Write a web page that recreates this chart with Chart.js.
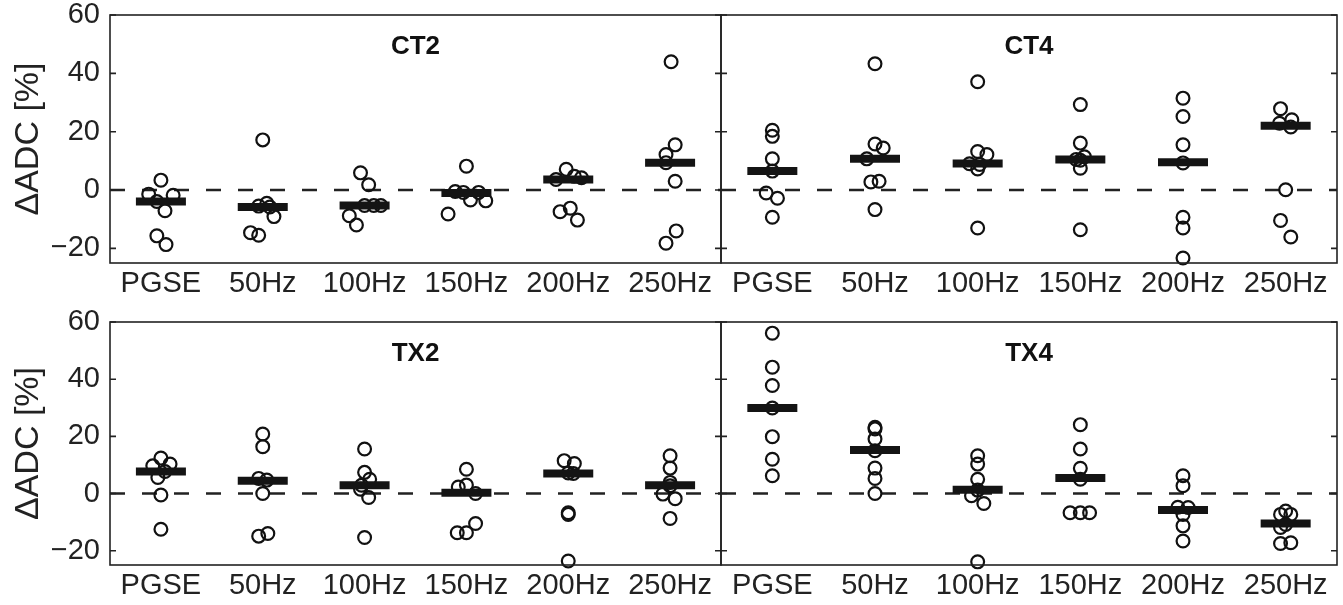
<!DOCTYPE html>
<html>
<head>
<meta charset="utf-8">
<script src="https://cdn.jsdelivr.net/npm/chart.js@4.4.1/dist/chart.umd.min.js"></script>
<style>
body { margin:0; background:#fff; width:1343px; height:605px; position:relative; overflow:hidden; }
canvas { position:absolute; }
</style>
</head>
<body>
<canvas id="ct2" width="725" height="305" style="left:0px;top:0px"></canvas>
<canvas id="ct4" width="643" height="305" style="left:700px;top:0px"></canvas>
<canvas id="tx2" width="725" height="300" style="left:0px;top:305px"></canvas>
<canvas id="tx4" width="643" height="300" style="left:700px;top:305px"></canvas>
<script>
/*-------------------------------------------------------------------------*/
// Data
/*-------------------------------------------------------------------------*/
var CATEGORIES = ['PGSE', '50Hz', '100Hz', '150Hz', '200Hz', '250Hz'];
var Y_TICKS = [-20, 0, 20, 40, 60];
var Y_MIN = -25, Y_MAX = 60;

// one row per category, 7 subjects each; jitter is the horizontal spread of the dots
var CT2_VALUES = [
	[3.4, -1.4, -1.8, -3.9, -7.1, -15.7, -18.7],
	[17.2, -4.5, -5.5, -5.8, -9.1, -14.6, -15.5],
	[5.9, 1.8, -5.3, -5.3, -5.3, -8.8, -12.0],
	[8.2, -0.5, -0.8, -0.8, -3.4, -3.7, -8.2],
	[7.1, 4.7, 4.2, 3.6, -6.2, -7.4, -10.3],
	[44.0, 15.5, 12.2, 9.4, 3.0, -14.0, -18.2]
];
var CT2_JITTER = [
	[0, -0.12, 0.12, -0.04, 0.04, -0.04, 0.05],
	[0, 0.04, -0.04, 0.07, 0.11, -0.12, -0.04],
	[-0.04, 0.04, 0, 0.09, 0.16, -0.15, -0.08],
	[0, -0.11, -0.03, 0.12, 0.04, 0.19, -0.18],
	[-0.02, 0.06, 0.13, -0.12, 0.02, -0.08, 0.09],
	[0.01, 0.05, -0.04, -0.04, 0.05, 0.06, -0.04]
];
var CT2_MEDIAN = [-3.9, -5.8, -5.3, -1.0, 3.6, 9.4];

var CT4_VALUES = [
	[20.5, 18.4, 10.7, 6.5, -1.0, -2.8, -9.3],
	[43.3, 15.8, 14.4, 10.7, 3.0, 2.8, -6.7],
	[37.1, 13.2, 12.2, 9.0, 8.8, 7.2, -13.0],
	[29.3, 16.1, 11.4, 10.5, 10.2, 7.5, -13.6],
	[31.5, 25.2, 15.5, 9.3, -9.3, -13.0, -23.3],
	[27.9, 24.1, 22.9, 21.6, 0.1, -10.4, -16.1]
];
var CT4_JITTER = [
	[0, 0, 0, 0, -0.06, 0.05, 0],
	[0, 0, 0.08, -0.08, 0.04, -0.04, 0],
	[0, 0, 0.09, -0.08, 0.02, 0, 0],
	[0, 0, 0.04, -0.04, 0, 0, 0],
	[0, 0, 0, 0, 0, 0, 0],
	[-0.05, 0.06, -0.06, 0.05, 0, -0.05, 0.05]
];
var CT4_MEDIAN = [6.5, 10.7, 9.1, 10.5, 9.5, 22.0];

var TX2_VALUES = [
	[12.4, 10.3, 9.7, 7.7, 5.6, -0.5, -12.5],
	[20.8, 16.4, 5.3, 4.7, 0, -14.0, -14.9],
	[15.6, 7.4, 5.0, 2.9, 1.5, -1.4, -15.4],
	[8.5, 3.0, 2.3, 0, -10.5, -13.7, -13.7],
	[11.5, 10.5, 7.2, 7.0, -6.7, -7.3, -23.6],
	[13.2, 8.9, 3.9, 2.7, -0.2, -1.8, -8.7]
];
var TX2_JITTER = [
	[0, 0.09, -0.08, 0.04, -0.03, 0, 0],
	[0, 0, -0.04, 0.04, 0, 0.05, -0.04],
	[0, 0, 0.05, -0.03, -0.04, 0.04, 0],
	[0, 0, -0.08, 0.09, 0.09, -0.09, 0],
	[-0.04, 0.06, 0, 0.05, 0, 0, 0],
	[0, 0, 0, 0, -0.07, 0.05, 0]
];
var TX2_MEDIAN = [7.7, 4.5, 2.9, 0.3, 7.0, 2.9];

var TX4_VALUES = [
	[56.1, 44.2, 37.8, 29.9, 19.9, 12.0, 6.2],
	[23.2, 22.6, 19.1, 15.0, 8.9, 5.3, 0],
	[13.2, 10.3, 5.0, 1.2, -0.8, -3.5, -23.9],
	[24.1, 15.6, 8.8, 5.0, -6.7, -6.7, -6.7],
	[6.2, 2.7, -4.8, -4.9, -7.3, -11.3, -16.6],
	[-6.1, -7.3, -7.3, -10.8, -11.9, -17.5, -17.2]
];
var TX4_JITTER = [
	[0, 0, 0, 0, 0, 0, 0],
	[0, 0, 0, 0, 0, 0, 0],
	[0, 0, 0, 0, -0.06, 0.06, 0],
	[0, 0, 0, 0, -0.1, 0, 0.09],
	[0, 0, -0.05, 0.05, 0, 0, 0],
	[0, -0.05, 0.05, 0, -0.05, -0.05, 0.05]
];
var TX4_MEDIAN = [29.9, 15.2, 1.3, 5.4, -5.8, -10.5];

/*-------------------------------------------------------------------------*/
// Helpers
/*-------------------------------------------------------------------------*/
Chart.defaults.font.family = "'Liberation Sans', Arial, Helvetica, sans-serif";
Chart.defaults.color = '#222';

function panelPoints(values, jitter) {
	var pts = [];
	for (var i = 0; i < values.length; i++) {
		for (var k = 0; k < values[i].length; k++) {
			pts.push({ x: i + jitter[i][k], y: values[i][k] });
		}
	}
	return pts;
}

function yLabel(v) {
	return v < 0 ? '\u2212' + (-v) : String(v);
}

// labels may hang over the plot edge, so keep the plot box where the layout puts it
function noLabelPadding(s) {
	s.paddingTop = 0;
	s.paddingBottom = 0;
	s.paddingLeft = 0;
	s.paddingRight = 0;
}

// box around the axes, inward ticks on both sides, panel name
var framePlugin = {
	id: 'frame',
	afterDatasetsDraw: function(chart, args, opts) {
		var a = chart.chartArea, ctx = chart.ctx, ys = chart.scales.y;
		ctx.save();
		ctx.strokeStyle = '#222';
		ctx.lineWidth = 1.6;
		ctx.strokeRect(a.left, a.top, a.right - a.left, a.bottom - a.top);
		ctx.beginPath();
		Y_TICKS.forEach(function(v) {
			var py = ys.getPixelForValue(v);
			ctx.moveTo(a.left, py); ctx.lineTo(a.left + 6, py);
			ctx.moveTo(a.right, py); ctx.lineTo(a.right - 6, py);
		});
		ctx.stroke();
		ctx.font = "bold 26px 'Liberation Sans', Arial, sans-serif";
		ctx.fillStyle = '#111';
		ctx.textAlign = 'center';
		ctx.textBaseline = 'middle';
		ctx.fillText(opts.text, (a.left + a.right) / 2, a.top + 32);
		ctx.restore();
	}
};

function makePanel(id, name, values, jitter, medians, showY, padTop, xHeight) {
	new Chart(document.getElementById(id), {
		type: 'scatter',
		data: {
			datasets: [{
				data: panelPoints(values, jitter),
				pointStyle: 'circle',
				pointRadius: 6.4,
				pointHoverRadius: 6.4,
				borderWidth: 2.2,
				borderColor: '#111',
				backgroundColor: 'rgba(0,0,0,0)',
				clip: false,
				order: 1
			}, {
				data: medians.map(function(m, i) { return { x: i, y: m }; }),
				pointStyle: 'line',
				pointRadius: 25,
				pointHoverRadius: 25,
				borderWidth: 8,
				borderColor: '#141414',
				clip: false,
				order: 0
			}, {
				type: 'line',
				data: [{ x: -0.5, y: 0 }, { x: CATEGORIES.length - 0.5, y: 0 }],
				borderDash: [15, 17],
				borderWidth: 2.5,
				borderColor: '#222',
				pointRadius: 0,
				order: 2
			}]
		},
		options: {
			responsive: false,
			animation: false,
			layout: { autoPadding: false, padding: { top: padTop, right: showY ? 4 : 6, left: 0, bottom: 0 } },
			plugins: {
				legend: { display: false },
				tooltip: { enabled: false },
				frame: { text: name }
			},
			scales: {
				x: {
					type: 'linear',
					min: -0.5,
					max: CATEGORIES.length - 0.5,
					afterBuildTicks: function(s) { s.ticks = CATEGORIES.map(function(c, i) { return { value: i }; }); },
					afterFit: function(s) { s.height = xHeight; noLabelPadding(s); },
					grid: { display: false, drawTicks: false },
					border: { display: false },
					ticks: {
						autoSkip: false, maxRotation: 0, padding: 4,
						font: { size: 29 }, color: '#222',
						callback: function(v, i) { return CATEGORIES[i]; }
					}
				},
				y: {
					type: 'linear',
					min: Y_MIN,
					max: Y_MAX,
					afterBuildTicks: function(s) { s.ticks = Y_TICKS.map(function(v) { return { value: v }; }); },
					afterFit: function(s) { s.width = showY ? 110 : 21; noLabelPadding(s); },
					grid: { display: false, drawTicks: false },
					border: { display: false },
					ticks: { display: showY, padding: 10, font: { size: 29 }, color: '#222', callback: yLabel },
					title: { display: showY, text: '\u0394ADC [%]', font: { size: 34 }, color: '#222', padding: { top: 8, bottom: 0 } }
				}
			}
		},
		plugins: [framePlugin]
	});
}

/*-------------------------------------------------------------------------*/
// Panels
/*-------------------------------------------------------------------------*/
makePanel('ct2', 'CT2', CT2_VALUES, CT2_JITTER, CT2_MEDIAN, true, 15, 42);
makePanel('ct4', 'CT4', CT4_VALUES, CT4_JITTER, CT4_MEDIAN, false, 15, 42);
makePanel('tx2', 'TX2', TX2_VALUES, TX2_JITTER, TX2_MEDIAN, true, 17, 40);
makePanel('tx4', 'TX4', TX4_VALUES, TX4_JITTER, TX4_MEDIAN, false, 17, 40);
</script>
</body>
</html>
